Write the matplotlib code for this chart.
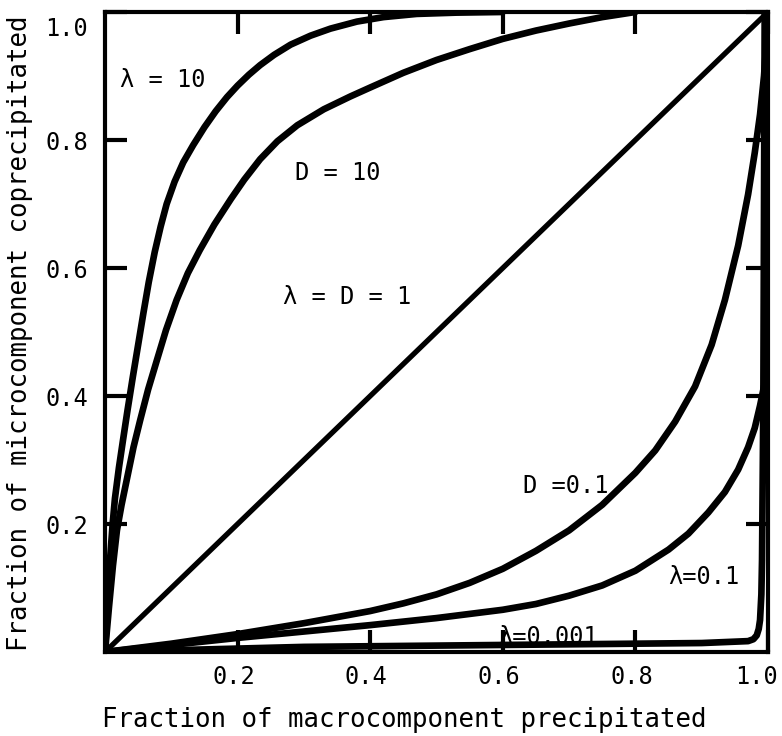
import matplotlib
matplotlib.use("Agg")
import matplotlib.pyplot as plt
from matplotlib.transforms import ScaledTranslation

# ---- data ----
lam10_x = [0, 0.004, 0.008, 0.0115, 0.015, 0.021, 0.027, 0.034, 0.042, 0.050, 0.058, 0.066, 0.075,
           0.084, 0.093, 0.105, 0.118, 0.133, 0.150, 0.167, 0.184, 0.200, 0.217, 0.234, 0.255,
           0.28, 0.31, 0.34, 0.38, 0.42, 0.47, 0.53, 0.60]
lam10_y = [0, 0.08, 0.15, 0.20, 0.24, 0.288, 0.33, 0.378, 0.43, 0.48, 0.53, 0.578, 0.625,
           0.665, 0.70, 0.735, 0.765, 0.792, 0.82, 0.845, 0.867, 0.885, 0.902, 0.917, 0.933,
           0.949, 0.963, 0.974, 0.985, 0.992, 0.997, 0.999, 1.0]

d10_x = [0, 0.006, 0.012, 0.018, 0.025, 0.033, 0.043, 0.053, 0.065, 0.078, 0.092, 0.108, 0.125,
         0.143, 0.165, 0.19, 0.21, 0.234, 0.26, 0.29, 0.33, 0.37, 0.40, 0.45, 0.50, 0.55,
         0.60, 0.65, 0.70, 0.75, 0.80]
d10_y = [0, 0.07, 0.135, 0.19, 0.23, 0.27, 0.32, 0.362, 0.41, 0.455, 0.503, 0.55, 0.592,
         0.628, 0.668, 0.708, 0.738, 0.77, 0.798, 0.823, 0.848, 0.868, 0.882, 0.905, 0.925, 0.942,
         0.958, 0.971, 0.982, 0.992, 1.0]

diag_x = [0, 1.0]
diag_y = [0, 1.0]

d01_x = [0, 0.1, 0.2, 0.3, 0.4, 0.45, 0.5, 0.55, 0.6, 0.65, 0.7, 0.75, 0.8, 0.83, 0.86, 0.89,
         0.915, 0.935, 0.955, 0.97, 0.98, 0.988, 0.994, 0.998, 1.0]
d01_y = [0, 0.013, 0.028, 0.045, 0.064, 0.076, 0.09, 0.108, 0.13, 0.158, 0.19, 0.23, 0.28, 0.315,
         0.36, 0.415, 0.48, 0.55, 0.635, 0.715, 0.78, 0.84, 0.90, 0.96, 1.0]

lam01_x = [0, 0.1, 0.2, 0.3, 0.4, 0.5, 0.6, 0.65, 0.7, 0.75, 0.8, 0.85, 0.88, 0.91, 0.935,
           0.955, 0.97, 0.98, 0.988, 0.994, 0.998, 1.0]
lam01_y = [0, 0.011, 0.022, 0.032, 0.042, 0.053, 0.066, 0.075, 0.088, 0.104, 0.127, 0.16, 0.185,
           0.218, 0.25, 0.285, 0.32, 0.35, 0.385, 0.415, 0.44, 0.46]

lam0001_x = [0, 0.3, 0.6, 0.9, 0.97, 0.978, 0.983, 0.986, 0.988, 0.990, 0.991, 0.993, 0.995]
lam0001_y = [0, 0.008, 0.011, 0.014, 0.017, 0.02, 0.026, 0.036, 0.05, 0.09, 0.144, 0.4, 1.0]

tick_vals = [0.2, 0.4, 0.6, 0.8, 1.0]
tick_labels = ["0.2", "0.4", "0.6", "0.8", "1.0"]

labels = ["\u03bb = 10", "D = 10", "\u03bb = D = 1", "D =0.1", "\u03bb=0.1", "\u03bb=0.001"]
label_x = [0.023, 0.287, 0.268, 0.63, 0.849, 0.593]
label_y = [0.894, 0.748, 0.555, 0.26, 0.117, 0.023]

xlabel = "Fraction of macrocomponent precipitated"
ylabel = "Fraction of microcomponent coprecipitated"

# ---- drawing ----
FONT = ["DejaVu Sans Mono", "Liberation Mono"]
plt.rcParams["font.family"] = FONT

fig = plt.figure(figsize=(7.82, 7.36), dpi=100)
ax = fig.add_axes([105 / 782, (736 - 652) / 736, 663 / 782, 640 / 736])

lw = 4.8
for xs, ys in [(lam10_x, lam10_y), (d10_x, d10_y), (d01_x, d01_y),
               (lam01_x, lam01_y), (lam0001_x, lam0001_y)]:
    ax.plot(xs, ys, color="black", lw=lw, solid_capstyle="round", solid_joinstyle="round")
ax.plot(diag_x, diag_y, color="black", lw=3.8, solid_capstyle="round")

ax.set_xlim(0, 1.0)
ax.set_ylim(0, 1.0)

for s in ax.spines.values():
    s.set_linewidth(3.0)

ax.set_xticks(tick_vals)
ax.set_xticklabels(tick_labels)
ax.set_yticks(tick_vals)
ax.set_yticklabels(tick_labels)
ax.tick_params(axis="both", direction="in", length=16, width=3,
               top=True, right=True, labelsize=17)
ax.tick_params(axis="x", pad=9)
ax.tick_params(axis="y", pad=12)

# small offsets of tick labels as in the reference
xl = ax.get_xticklabels()
for i, lab in enumerate(xl):
    dx = -0.11 if i == len(xl) - 1 else -0.04
    lab.set_transform(lab.get_transform() + ScaledTranslation(dx, 0, fig.dpi_scale_trans))
yl = ax.get_yticklabels()
yl[-1].set_transform(yl[-1].get_transform() + ScaledTranslation(0, -0.15, fig.dpi_scale_trans))

for t, x, y in zip(labels, label_x, label_y):
    ax.text(x, y, t, fontsize=17, ha="left", va="center", family=FONT)

ax.set_xlabel(xlabel, fontsize=18.5)
ax.set_ylabel(ylabel, fontsize=18.5)
ax.xaxis.set_label_coords(0.451, -0.086)
ax.yaxis.set_label_coords(-0.109, 0.498)

fig.savefig("out.png", dpi=100)
